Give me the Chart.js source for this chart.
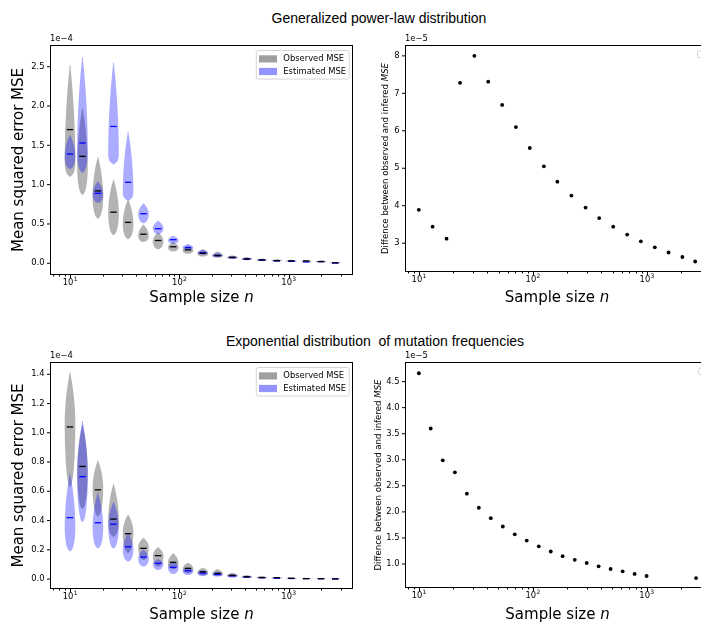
<!DOCTYPE html>
<html>
<head>
<meta charset="utf-8">
<script src="https://cdn.jsdelivr.net/npm/chart.js@4.4.1/dist/chart.umd.min.js"></script>
<style>
  html, body { margin: 0; padding: 0; background: #fff; width: 701px; height: 623px; overflow: hidden; position: relative; }
  canvas { position: absolute; left: 0; top: 0; }
  .suptitle { position: absolute; font-family: "Liberation Sans", Arial, sans-serif; font-size: 14px; line-height: 16px; color: #000; white-space: pre; transform: translateX(-50%); }
</style>
</head>
<body>
<div class="suptitle" style="left:379px;top:10px">Generalized power-law distribution</div>
<div class="suptitle" style="left:375px;top:333px">Exponential distribution  of mutation frequencies</div>
<canvas id="plViolin" width="720" height="623"></canvas>
<canvas id="plDiff" width="720" height="623"></canvas>
<canvas id="expViolin" width="720" height="623"></canvas>
<canvas id="expDiff" width="720" height="623"></canvas>
<script>
// sample sizes of the violins (both left panels)
const violinSizes = [10, 13, 18, 25, 34, 47, 64, 88, 120, 164, 224, 306, 415, 570, 780, 1060, 1450, 1980, 2670];

// generalized power-law, MSE in units of 1e-4
const plObsLow  = [1.10, 0.87, 0.57, 0.36, 0.31, 0.27, 0.18, 0.15, 0.12, 0.085, 0.07, 0.055, 0.04, 0.03, 0.025, 0.02, 0.018, 0.015, 0.0];
const plObsHigh = [2.52, 1.97, 1.35, 1.06, 0.81, 0.49, 0.39, 0.27, 0.22, 0.18, 0.15, 0.10, 0.08, 0.06, 0.05, 0.045, 0.04, 0.035, 0.015];
const plObsMean = [1.70, 1.36, 0.92, 0.65, 0.52, 0.37, 0.29, 0.21, 0.17, 0.127, 0.097, 0.076, 0.055, 0.042, 0.034, 0.03, 0.03, 0.022, 0.006];
const plObsMode = [1.28, 1.22, 0.84, 0.63, 0.50, 0.35, 0.28, 0.20, 0.16, 0.12, 0.095, 0.075, 0.055, 0.042, 0.034, 0.03, 0.028, 0.022, 0.006];

const plEstLow  = [1.20, 1.15, 0.77, 1.26, 0.80, 0.51, 0.37, 0.25, 0.17, 0.11, 0.08, 0.06, 0.045, 0.035, 0.028, 0.02, 0.012, 0.012, 0.0];
const plEstHigh = [1.63, 2.62, 1.04, 2.55, 1.67, 0.76, 0.54, 0.35, 0.245, 0.17, 0.13, 0.09, 0.07, 0.055, 0.045, 0.035, 0.025, 0.03, 0.012];
const plEstMean = [1.39, 1.53, 0.89, 1.74, 1.03, 0.63, 0.44, 0.30, 0.20, 0.133, 0.10, 0.072, 0.052, 0.04, 0.03, 0.025, 0.017, 0.021, 0.004];
const plEstMode = [1.36, 1.42, 0.88, 1.38, 0.90, 0.63, 0.445, 0.29, 0.20, 0.13, 0.10, 0.072, 0.052, 0.04, 0.03, 0.025, 0.017, 0.021, 0.004];

// exponential, MSE in units of 1e-4
const exObsLow  = [0.63, 0.48, 0.43, 0.29, 0.18, 0.13, 0.084, 0.066, 0.039, 0.025, 0.02, 0.012, 0.008, 0.005, 0.004, 0.002, 0.001, 0.001, 0.0];
const exObsHigh = [1.41, 1.05, 0.81, 0.65, 0.44, 0.28, 0.217, 0.176, 0.112, 0.077, 0.068, 0.043, 0.027, 0.018, 0.014, 0.01, 0.007, 0.006, 0.003];
const exObsMean = [1.04, 0.77, 0.61, 0.41, 0.31, 0.21, 0.16, 0.114, 0.073, 0.05, 0.039, 0.025, 0.016, 0.011, 0.009, 0.005, 0.003, 0.003, 0.001];
const exObsMode = [1.06, 0.74, 0.62, 0.40, 0.32, 0.22, 0.16, 0.11, 0.07, 0.048, 0.036, 0.024, 0.015, 0.01, 0.008, 0.005, 0.003, 0.003, 0.001];

const exEstLow  = [0.19, 0.39, 0.21, 0.21, 0.12, 0.085, 0.062, 0.034, 0.027, 0.02, 0.017, 0.01, 0.007, 0.004, 0.003, 0.002, 0.001, 0.001, 0.0];
const exEstHigh = [0.72, 1.08, 0.59, 0.525, 0.31, 0.20, 0.135, 0.12, 0.08, 0.06, 0.05, 0.035, 0.022, 0.015, 0.012, 0.008, 0.006, 0.005, 0.003];
const exEstMean = [0.42, 0.70, 0.385, 0.375, 0.22, 0.15, 0.107, 0.08, 0.057, 0.041, 0.032, 0.023, 0.014, 0.009, 0.007, 0.004, 0.003, 0.002, 0.001];
const exEstMode = [0.35, 0.70, 0.35, 0.36, 0.20, 0.14, 0.105, 0.08, 0.055, 0.04, 0.03, 0.022, 0.013, 0.009, 0.007, 0.004, 0.003, 0.002, 0.001];

// difference between observed and inferred MSE, units of 1e-5
const plDiffSizes = [10, 13.2, 17.5, 23, 30.7, 40.6, 53.8, 71, 94, 125, 164, 218, 290, 382, 507, 672, 886, 1175, 1549, 2050, 2655];
const plDiffValues = [3.89, 3.44, 3.12, 7.28, 8.0, 7.31, 6.69, 6.10, 5.54, 5.05, 4.64, 4.27, 3.95, 3.67, 3.44, 3.23, 3.05, 2.89, 2.75, 2.63, 2.51];
const exDiffSizes = [10, 12.7, 16.2, 20.7, 26.4, 33.6, 42.8, 54.6, 69.5, 88.6, 113, 144, 183, 234, 298, 379, 483, 616, 785, 1000, 2720];
const exDiffValues = [4.66, 3.60, 2.99, 2.76, 2.35, 2.08, 1.88, 1.72, 1.57, 1.45, 1.34, 1.24, 1.15, 1.08, 1.02, 0.955, 0.905, 0.86, 0.81, 0.77, 0.73];

const plViolinTicks = [0, 0.5, 1.0, 1.5, 2.0, 2.5];
const exViolinTicks = [0, 0.2, 0.4, 0.6, 0.8, 1.0, 1.2, 1.4];
const plDiffTicks = [3, 4, 5, 6, 7, 8];
const exDiffTicks = [1.0, 1.5, 2.0, 2.5, 3.0, 3.5, 4.0, 4.5];
const logTicks = [10, 100, 1000];

Chart.defaults.font.family = '"DejaVu Sans", sans-serif';
Chart.defaults.font.size = 8.4;
Chart.defaults.color = '#000';

const FONT = '"DejaVu Sans", sans-serif';

// half width profile of a violin, 0..1
function violinWidth(v, lo, hi, mode) {
  let w;
  if (v <= mode) {
    const u = mode > lo ? (mode - v) / (mode - lo) : 0;
    w = Math.sqrt(Math.max(0, 1 - u * u));
  } else {
    const t = hi > mode ? Math.min(1, (v - mode) / (hi - mode)) : 1;
    w = Math.pow(Math.cos(t * Math.PI / 2), 0.8);
  }
  return Math.max(w, 0.1);
}

const violinPlugin = {
  id: 'violins',
  beforeDatasetsDraw(chart) {
    const { ctx, chartArea: a, scales: { x, y } } = chart;
    const W = 5.3;
    ctx.save();
    ctx.beginPath();
    ctx.rect(a.left, a.top, a.width, a.height);
    ctx.clip();
    chart.data.datasets.forEach(ds => {
      if (!ds.violin) return;
      const { low, high, mode } = ds.violin;
      ctx.fillStyle = ds.bodyColor;
      ds.data.forEach((pt, i) => {
        const cx = x.getPixelForValue(pt.x);
        const lo = low[i], hi = high[i], md = mode[i];
        const n = 40;
        const right = [], left = [];
        for (let k = 0; k <= n; k++) {
          const v = lo + (hi - lo) * k / n;
          const py = y.getPixelForValue(v);
          const w = W * violinWidth(v, lo, hi, md);
          right.push([cx + w, py]);
          left.push([cx - w, py]);
        }
        ctx.beginPath();
        right.forEach((p, k) => k ? ctx.lineTo(p[0], p[1]) : ctx.moveTo(p[0], p[1]));
        left.reverse().forEach(p => ctx.lineTo(p[0], p[1]));
        ctx.closePath();
        ctx.fill();
      });
    });
    ctx.restore();
  }
};

function drawRich(ctx, parts, size, cx, cy, rotate, baseline) {
  ctx.save();
  ctx.translate(cx, cy);
  if (rotate) ctx.rotate(-Math.PI / 2);
  const fonts = parts.map(p => (p.i ? 'italic ' : '') + size + 'px ' + FONT);
  let total = 0;
  const widths = parts.map((p, k) => {
    ctx.font = fonts[k];
    const w = ctx.measureText(p.t).width;
    total += w;
    return w;
  });
  let px = -total / 2;
  ctx.textBaseline = baseline || 'middle';
  ctx.textAlign = 'left';
  ctx.fillStyle = '#000';
  parts.forEach((p, k) => {
    ctx.font = fonts[k];
    ctx.fillText(p.t, px, 0);
    px += widths[k];
  });
  ctx.restore();
}

function roundRect(ctx, x, y, w, h, r) {
  ctx.beginPath();
  ctx.moveTo(x + r, y);
  ctx.lineTo(x + w - r, y);
  ctx.quadraticCurveTo(x + w, y, x + w, y + r);
  ctx.lineTo(x + w, y + h - r);
  ctx.quadraticCurveTo(x + w, y + h, x + w - r, y + h);
  ctx.lineTo(x + r, y + h);
  ctx.quadraticCurveTo(x, y + h, x, y + h - r);
  ctx.lineTo(x, y + r);
  ctx.quadraticCurveTo(x, y, x + r, y);
  ctx.closePath();
}

const framePlugin = {
  id: 'frame',
  afterDraw(chart, args, opts) {
    const { ctx, chartArea: a, scales: { x, y } } = chart;
    const L = Math.round(a.left) + 0.5, R = Math.round(a.right) - 0.5;
    const T = Math.round(a.top) + 0.5, B = Math.round(a.bottom) - 0.5;
    ctx.save();
    ctx.strokeStyle = '#000';
    ctx.lineWidth = 1;
    ctx.strokeRect(L, T, R - L, B - T);
    ctx.beginPath();
    y.ticks.forEach(t => {
      const py = y.getPixelForValue(t.value);
      ctx.moveTo(L - 3.5, py);
      ctx.lineTo(L, py);
    });
    for (let d = 0; d < 4; d++) {
      for (let k = 1; k < 10; k++) {
        const v = k * Math.pow(10, d);
        if (v < x.min || v > x.max) continue;
        const px = Math.round(x.getPixelForValue(v)) + 0.5;
        ctx.moveTo(px, B);
        ctx.lineTo(px, B + (k === 1 ? 3.5 : 2));
      }
    }
    ctx.stroke();

    // log tick labels as 10 with a raised exponent
    ctx.fillStyle = '#000';
    ctx.textBaseline = 'alphabetic';
    x.ticks.forEach(t => {
      const px = x.getPixelForValue(t.value);
      const exp = String(Math.round(Math.log10(t.value)));
      ctx.font = '8.4px ' + FONT;
      const wb = ctx.measureText('10').width;
      ctx.font = '6px ' + FONT;
      const we = ctx.measureText(exp).width;
      const x0 = px - (wb + we) / 2;
      ctx.font = '8.4px ' + FONT;
      ctx.textAlign = 'left';
      ctx.fillText('10', x0, B + 10);
      ctx.font = '6px ' + FONT;
      ctx.fillText(exp, x0 + wb + 0.3, B + 6.5);
    });

    // offset text
    ctx.font = '8.4px ' + FONT;
    ctx.textAlign = 'left';
    ctx.textBaseline = 'bottom';
    ctx.fillText(opts.offset, a.left, a.top - 1.5);

    // axis titles
    drawRich(ctx, opts.xTitle, 15, (a.left + a.right) / 2, opts.xTitleY, false, 'alphabetic');
    drawRich(ctx, opts.yTitle, opts.yTitleSize, opts.yTitleX, (a.top + a.bottom) / 2, true, 'middle');

    // legend
    const items = chart.data.datasets.filter(d => d.legendColor);
    if (items.length) {
      const w = 93, h = 28.6;
      const lx = a.right - 3.7 - w, ly = a.top + 5.5;
      roundRect(ctx, lx, ly, w, h, 2);
      ctx.fillStyle = 'rgba(255,255,255,0.8)';
      ctx.fill();
      ctx.strokeStyle = '#cccccc';
      ctx.lineWidth = 0.8;
      ctx.stroke();
      items.forEach((d, k) => {
        const cy = ly + 8.4 + k * 12.6;
        ctx.fillStyle = d.legendColor;
        ctx.fillRect(lx + 2.7, cy - 3.6, 18, 7.2);
        ctx.fillStyle = '#000';
        ctx.font = '8.4px ' + FONT;
        ctx.textBaseline = 'middle';
        ctx.fillText(d.label, lx + 27, cy);
      });
    } else {
      roundRect(ctx, a.right - 11.5, a.top + 6, 9, 6.5, 1.5);
      ctx.fillStyle = 'rgba(255,255,255,0.8)';
      ctx.fill();
      ctx.strokeStyle = '#cccccc';
      ctx.lineWidth = 0.8;
      ctx.stroke();
    }
    ctx.restore();
  }
};

function baseOptions(pad, xMin, xMax, yMin, yMax, yTicks, yDigits, frame) {
  return {
    responsive: false,
    animation: false,
    events: [],
    layout: { padding: pad },
    plugins: { legend: { display: false }, tooltip: { enabled: false }, frame: frame },
    scales: {
      x: {
        type: 'logarithmic', min: xMin, max: xMax, bounds: 'data',
        grid: { display: false, drawTicks: false }, border: { display: false },
        ticks: { display: false },
        afterBuildTicks: s => { s.ticks = logTicks.map(v => ({ value: v })); },
        afterFit: s => { s.height = 30; s.paddingLeft = 0; s.paddingRight = 0; }
      },
      y: {
        type: 'linear', min: yMin, max: yMax, bounds: 'data',
        grid: { display: false, drawTicks: false }, border: { display: false },
        ticks: { padding: 5.5, autoSkip: false, callback: v => v.toFixed(yDigits) },
        afterBuildTicks: s => { s.ticks = yTicks.map(v => ({ value: v })); },
        afterFit: s => { s.width = 40; s.paddingTop = 0; s.paddingBottom = 0; }
      }
    }
  };
}

const obsBody = 'rgba(128,128,128,0.6)';
const estBody = 'rgba(0,0,255,0.33)';

function violinChart(id, pad, yMin, yMax, yTicks, obs, est, xTitleY) {
  const toPts = means => violinSizes.map((s, i) => ({ x: s, y: means[i] }));
  return new Chart(document.getElementById(id), {
    type: 'scatter',
    data: {
      datasets: [
        { label: 'Observed MSE', data: toPts(obs.mean),
          violin: { low: obs.low, high: obs.high, mode: obs.mode },
          bodyColor: obsBody, legendColor: 'rgba(128,128,128,0.75)',
          pointStyle: 'line', pointRadius: 3.2, pointBorderWidth: 1.3,
          pointBorderColor: '#000', borderColor: '#000', backgroundColor: '#000' },
        { label: 'Estimated MSE', data: toPts(est.mean),
          violin: { low: est.low, high: est.high, mode: est.mode },
          bodyColor: estBody, legendColor: 'rgba(0,0,255,0.42)',
          pointStyle: 'line', pointRadius: 3.2, pointBorderWidth: 1.3,
          pointBorderColor: '#0000ff', borderColor: '#0000ff', backgroundColor: '#0000ff' }
      ]
    },
    options: baseOptions(pad, 6.56, 3884, yMin, yMax, yTicks, 1, {
      offset: '1e\u22124',
      xTitle: [{ t: 'Sample size ' }, { t: 'n', i: true }], xTitleY: xTitleY,
      yTitle: [{ t: 'Mean squared error MSE' }], yTitleSize: 15, yTitleX: 19
    }),
    plugins: [violinPlugin, framePlugin]
  });
}

function diffChart(id, pad, xMin, xMax, yMin, yMax, yTicks, digits, sizes, values, xTitleY, yTitleX) {
  return new Chart(document.getElementById(id), {
    type: 'scatter',
    data: {
      datasets: [{ label: 'difference', data: sizes.map((s, i) => ({ x: s, y: values[i] })),
                   pointRadius: 1.9, pointBorderWidth: 0, pointBackgroundColor: '#000', backgroundColor: '#000' }]
    },
    options: baseOptions(pad, xMin, xMax, yMin, yMax, yTicks, digits, {
      offset: '1e\u22125',
      xTitle: [{ t: 'Sample size ' }, { t: 'n', i: true }], xTitleY: xTitleY,
      yTitle: [{ t: 'Diffence between observed and infered ' }, { t: 'MSE', i: true }],
      yTitleSize: 8.6, yTitleX: yTitleX
    }),
    plugins: [framePlugin]
  });
}

violinChart('plViolin', { left: 10, right: 367, top: 45, bottom: 318 }, -0.149, 2.776, plViolinTicks,
  { low: plObsLow, high: plObsHigh, mean: plObsMean, mode: plObsMode },
  { low: plEstLow, high: plEstHigh, mean: plEstMean, mode: plEstMode }, 302);

violinChart('expViolin', { left: 10, right: 367, top: 362, bottom: 4 }, -0.068, 1.484, exViolinTicks,
  { low: exObsLow, high: exObsHigh, mean: exObsMean, mode: exObsMode },
  { low: exEstLow, high: exEstHigh, mean: exEstMean, mode: exEstMode }, 619);

diffChart('plDiff', { left: 365, right: 11, top: 45, bottom: 321 }, 7.56, 3509, 2.23, 8.29, plDiffTicks, 0,
  plDiffSizes, plDiffValues, 302, 386);

diffChart('expDiff', { left: 365, right: 10, top: 362, bottom: 5 }, 7.55, 3606, 0.54, 4.876, exDiffTicks, 1,
  exDiffSizes, exDiffValues, 619, 378.5);
</script>
</body>
</html>
